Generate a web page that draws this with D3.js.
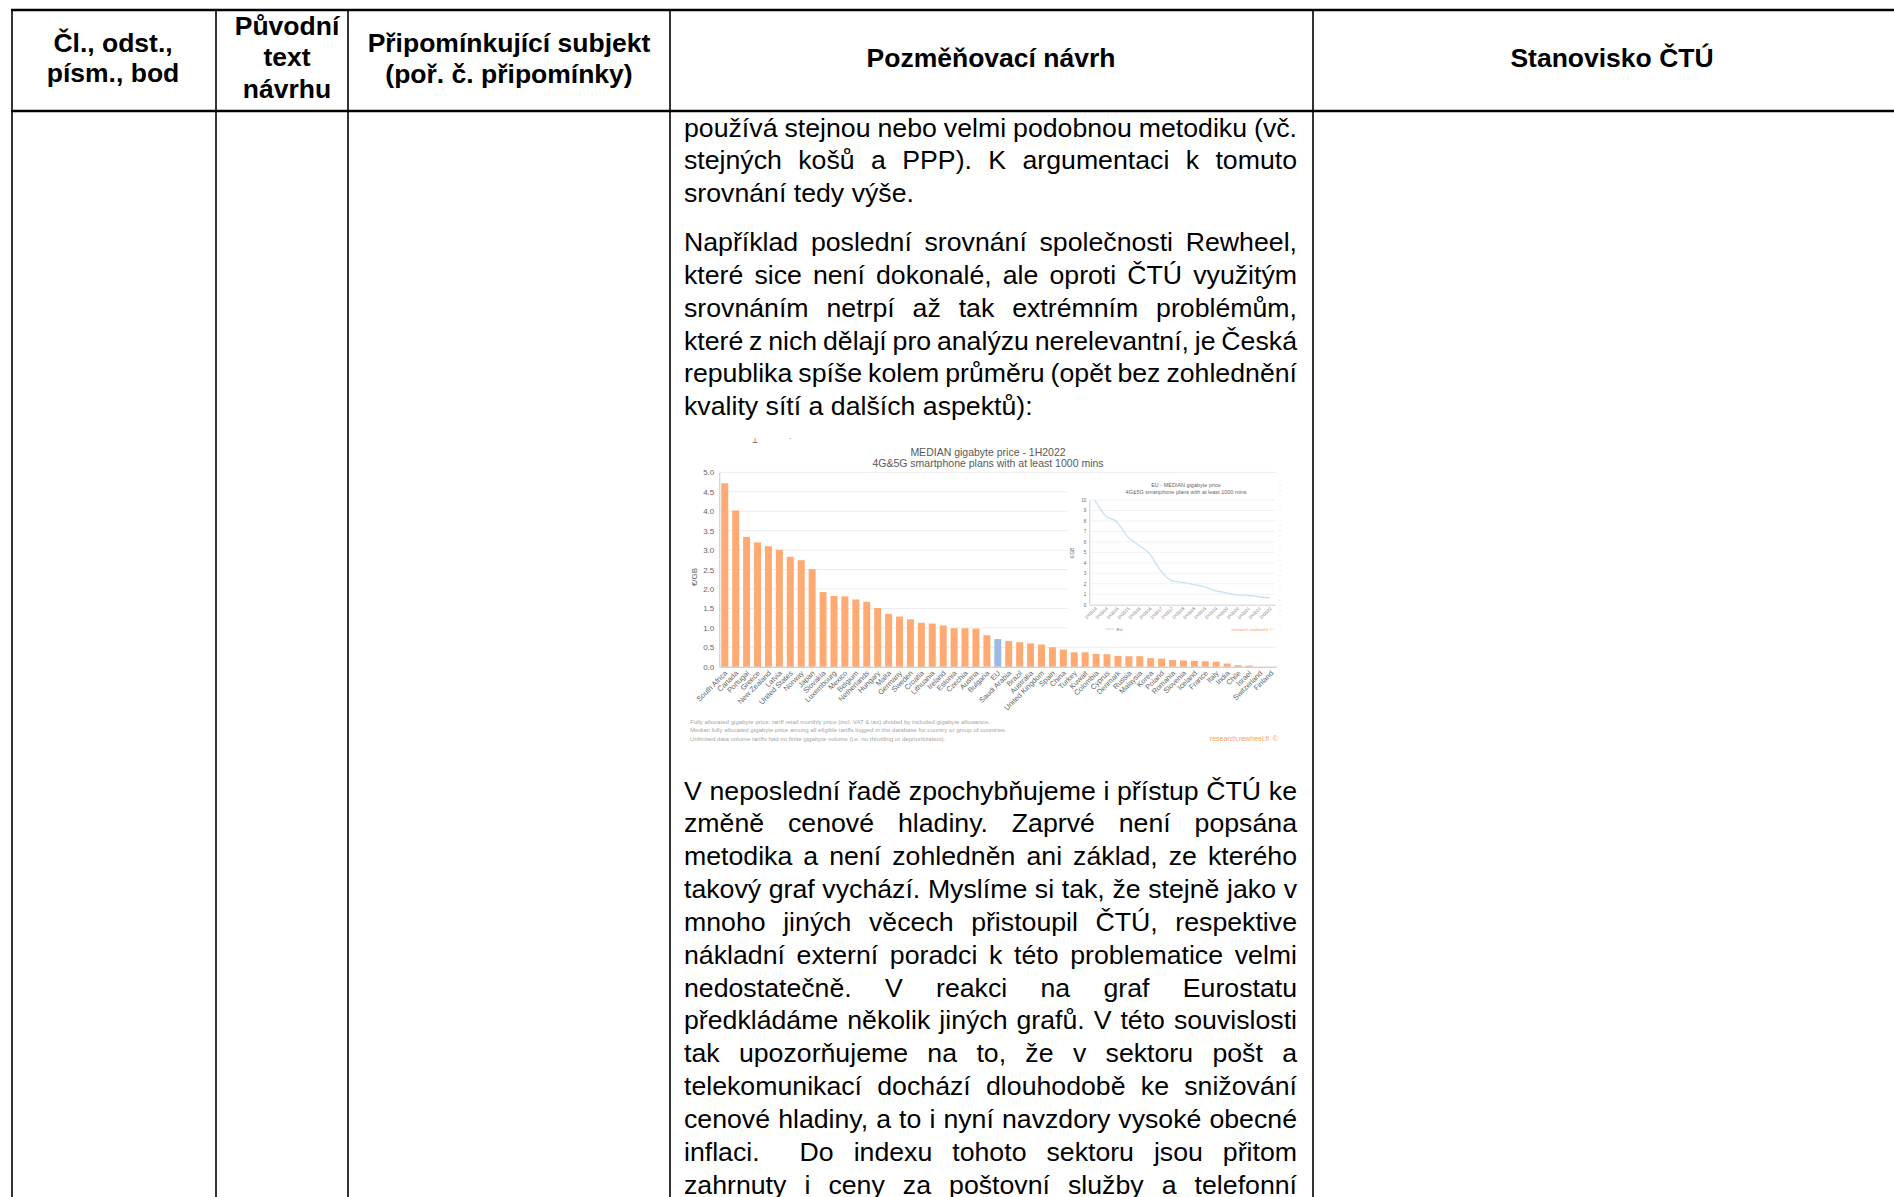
<!DOCTYPE html>
<html>
<head>
<meta charset="utf-8">
<script src="https://cdn.jsdelivr.net/npm/d3@7"></script>
<style>
  body { margin: 0; background: #fff; }
  svg text { font-family: "Liberation Sans", Arial, sans-serif; white-space: pre; }
</style>
</head>
<body>
<svg id="page"></svg>
<script>
// --- main chart data (MEDIAN gigabyte price - 1H2022) ---
const countries = ["South Africa","Canada","Portugal","Greece","New Zealand","Latvia","United States","Norway","Japan","Slovakia",
  "Luxembourg","Mexico","Belgium","Netherlands","Hungary","Malta","Germany","Sweden","Croatia","Lithuania",
  "Ireland","Estonia","Czechia","Austria","Bulgaria","EU","Saudi Arabia","Brazil","Australia","United Kingdom",
  "Spain","China","Turkey","Kuwait","Colombia","Cyprus","Denmark","Russia","Malaysia","Korea",
  "Poland","Romania","Slovenia","Iceland","France","Italy","India","Chile","Israel","Switzerland","Finland"];
const prices = [4.72,4.02,3.34,3.20,3.10,3.01,2.83,2.74,2.51,1.92,
  1.82,1.81,1.73,1.67,1.51,1.36,1.29,1.22,1.13,1.11,
  1.06,0.99,0.99,0.98,0.81,0.71,0.66,0.63,0.60,0.57,
  0.50,0.44,0.37,0.37,0.33,0.32,0.28,0.27,0.27,0.22,
  0.21,0.17,0.16,0.15,0.14,0.13,0.08,0.04,0.03,0,0];
const priceTicks = [0,0.5,1,1.5,2,2.5,3,3.5,4,4.5,5];

// --- inset data (EU - MEDIAN gigabyte price) ---
const periods = ["1H2014","2H2014","1H2015","2H2015","1H2016","2H2016","1H2017","2H2017","1H2018","2H2018",
  "1H2019","2H2019","1H2020","2H2020","1H2021","2H2021","1H2022"];
const euTrend = [10.0,8.47,7.93,6.5,5.7,4.9,3.3,2.3,2.13,1.94,1.72,1.34,1.15,0.92,0.89,0.76,0.64];
const euTicks = [0,1,2,3,4,5,6,7,8,9,10];

const footnotes = [
  "Fully allocated gigabyte price: tariff retail monthly price (incl. VAT & tax) divided by included gigabyte allowance.",
  "Median fully allocated gigabyte price among all eligible tariffs logged in the database for country or group of countries.",
  "Unlimited data volume tariffs had no finite gigabyte volume (i.e. no throttling or deprioritization)."
];

// --- document text ---
const para1 = [
  "používá stejnou nebo velmi podobnou metodiku (vč.",
  "stejných košů a PPP). K argumentaci k tomuto",
  "srovnání tedy výše."
];
const para2 = [
  "Například poslední srovnání společnosti Rewheel,",
  "které sice není dokonalé, ale oproti ČTÚ využitým",
  "srovnáním netrpí až tak extrémním problémům,",
  "které z nich dělají pro analýzu nerelevantní, je Česká",
  "republika spíše kolem průměru (opět bez zohlednění",
  "kvality sítí a dalších aspektů):"
];
const para3 = [
  "V neposlední řadě zpochybňujeme i přístup ČTÚ ke",
  "změně cenové hladiny. Zaprvé není popsána",
  "metodika a není zohledněn ani základ, ze kterého",
  "takový graf vychází. Myslíme si tak, že stejně jako v",
  "mnoho jiných věcech přistoupil ČTÚ, respektive",
  "nákladní externí poradci k této problematice velmi",
  "nedostatečně. V reakci na graf Eurostatu",
  "předkládáme několik jiných grafů. V této souvislosti",
  "tak upozorňujeme na to, že v sektoru pošt a",
  "telekomunikací dochází dlouhodobě ke snižování",
  "cenové hladiny, a to i nyní navzdory vysoké obecné",
  "inflaci.  Do indexu tohoto sektoru jsou přitom",
  "zahrnuty i ceny za poštovní služby a telefonní"
];

const W = 1894, H = 1197;
const svg = d3.select("#page").attr("width", W).attr("height", H);

// table header
const headers = [
  { x: 113, lines: [["Čl., odst.,", 51.5], ["písm., bod", 82]] },
  { x: 287, lines: [["Původní", 34.5], ["text", 66], ["návrhu", 97.5]] },
  { x: 509, lines: [["Připomínkující subjekt", 51.5], ["(poř. č. připomínky)", 83]] },
  { x: 991, lines: [["Pozměňovací návrh", 66.5]] },
  { x: 1612, lines: [["Stanovisko ČTÚ", 66.5]] }
];
headers.forEach(h => {
  h.lines.forEach(([t, y]) => {
    svg.append("text").attr("x", h.x).attr("y", y)
      .attr("text-anchor", "middle").attr("font-size", 26.5).attr("font-weight", "bold")
      .text(t);
  });
});

const grid = svg.append("g").attr("stroke", "#000");
grid.append("line").attr("x1", 11).attr("x2", W).attr("y1", 10).attr("y2", 10).attr("stroke-width", 2.5);
grid.append("line").attr("x1", 11).attr("x2", W).attr("y1", 111).attr("y2", 111).attr("stroke-width", 2.5);
[12, 216, 348, 670, 1313].forEach(x => {
  grid.append("line").attr("x1", x).attr("x2", x).attr("y1", 9).attr("y2", H).attr("stroke-width", 1.6);
});

// justified paragraphs
const textLeft = 684, textRight = 1297, lineH = 32.85;
function drawPara(lines, y0, lastJustified) {
  lines.forEach((ln, i) => {
    const t = svg.append("text").attr("x", textLeft).attr("y", y0 + i * lineH)
      .attr("font-size", 26.7).attr("fill", "#000").text(ln);
    if (i < lines.length - 1 || lastJustified) {
      const w = t.node().getComputedTextLength();
      const gaps = (ln.match(/ /g) || []).length;
      if (gaps) t.attr("word-spacing", (textRight - textLeft - w) / gaps);
    }
  });
}
drawPara(para1, 136.5, false);
drawPara(para2, 251, false);
drawPara(para3, 799.5, true);

// --- bar chart image ---
const chart = svg.append("g");
chart.append("text").attr("x", 752).attr("y", 443).attr("font-size", 7).attr("fill", "#222").text("⊥");
chart.append("text").attr("x", 789).attr("y", 443).attr("font-size", 7).attr("fill", "#222").text("ˊ");

const x = d3.scaleBand().domain(countries).range([719.3, 1276.3]).paddingInner(0.36).paddingOuter(0.18);
const y = d3.scaleLinear().domain([0, 5]).range([666.7, 472.4]);

chart.append("g").selectAll("line").data(priceTicks.slice(1)).join("line")
  .attr("x1", 719.3).attr("x2", 1276.3)
  .attr("y1", d => y(d)).attr("y2", d => y(d))
  .attr("stroke", "#ececec").attr("stroke-width", 1);

chart.append("g").selectAll("rect").data(countries).join("rect")
  .attr("x", d => x(d)).attr("width", x.bandwidth())
  .attr("y", (d, i) => y(prices[i])).attr("height", (d, i) => y(0) - y(prices[i]))
  .attr("fill", d => d === "EU" ? "#9dbbe0" : "#ffaa73");

const yAxis = chart.append("g").attr("transform", "translate(719.3,0)")
  .call(d3.axisLeft(y).tickValues(priceTicks).tickFormat(d3.format(".1f")).tickSize(0).tickPadding(5));
yAxis.select(".domain").attr("stroke", "#c8c8c8");
yAxis.selectAll("text").attr("font-size", 8).attr("fill", "#666").attr("font-family", "Liberation Sans, Arial, sans-serif");

const xAxis = chart.append("g").attr("transform", "translate(0,666.7)")
  .call(d3.axisBottom(x).tickSize(0).tickPadding(0));
xAxis.select(".domain").attr("stroke", "#bdbdbd");
xAxis.selectAll("text")
  .attr("font-size", 7.4).attr("fill", "#666").attr("font-family", "Liberation Sans, Arial, sans-serif")
  .attr("text-anchor", "end").attr("dy", 0)
  .attr("transform", "translate(3,7) rotate(-45)");

chart.append("text").attr("transform", "translate(697,577) rotate(-90)")
  .attr("text-anchor", "middle").attr("font-size", 8).attr("fill", "#595959").text("€/GB");

chart.append("text").attr("x", 988).attr("y", 456).attr("text-anchor", "middle")
  .attr("font-size", 10.5).attr("fill", "#595959").text("MEDIAN gigabyte price - 1H2022");
chart.append("text").attr("x", 988).attr("y", 467).attr("text-anchor", "middle")
  .attr("font-size", 10.5).attr("fill", "#595959").text("4G&5G smartphone plans with at least 1000 mins");

chart.append("g").selectAll("text").data(footnotes).join("text")
  .attr("x", 690).attr("y", (d, i) => 724 + i * 8.3)
  .attr("font-size", 6.1).attr("fill", "#a6a6a6").text(d => d);
chart.append("text").attr("x", 1278).attr("y", 741).attr("text-anchor", "end")
  .attr("font-size", 7).attr("fill", "#f5a05a").text("research.rewheel.fi  ©");

// --- inset line chart ---
const inset = chart.append("g");
inset.append("rect").attr("x", 1068).attr("y", 476).attr("width", 216).attr("height", 164).attr("fill", "#fff");
inset.append("line").attr("x1", 1280).attr("x2", 1280).attr("y1", 480).attr("y2", 632)
  .attr("stroke", "#e6e6e6").attr("stroke-dasharray", "1,4");

const ix = d3.scalePoint().domain(periods).range([1089.3, 1275]).padding(0.5);
const iy = d3.scaleLinear().domain([0, 10]).range([604.7, 500]);

inset.append("g").selectAll("line").data(euTicks.slice(1)).join("line")
  .attr("x1", 1089.3).attr("x2", 1275).attr("y1", d => iy(d)).attr("y2", d => iy(d))
  .attr("stroke", "#efefef").attr("stroke-width", 0.8);

const iyAxis = inset.append("g").attr("transform", "translate(1089.3,0)")
  .call(d3.axisLeft(iy).tickValues(euTicks).tickSize(0).tickPadding(3));
iyAxis.select(".domain").attr("stroke", "#d0d0d0");
iyAxis.selectAll("text").attr("font-size", 4.6).attr("fill", "#666").attr("font-family", "Liberation Sans, Arial, sans-serif");

const ixAxis = inset.append("g").attr("transform", "translate(0,604.7)")
  .call(d3.axisBottom(ix).tickSize(0).tickPadding(0));
ixAxis.select(".domain").attr("stroke", "#d0d0d0");
ixAxis.selectAll("text")
  .attr("font-size", 4.4).attr("fill", "#777").attr("font-family", "Liberation Sans, Arial, sans-serif")
  .attr("text-anchor", "end").attr("dy", 0)
  .attr("transform", "translate(2,4) rotate(-45)");

inset.append("path").datum(euTrend)
  .attr("fill", "none").attr("stroke", "#c5e2f2").attr("stroke-width", 1.3)
  .attr("d", d3.line().x((d, i) => ix(periods[i])).y(d => iy(d)).curve(d3.curveMonotoneX));

inset.append("text").attr("transform", "translate(1074,553) rotate(-90)")
  .attr("text-anchor", "middle").attr("font-size", 4.6).attr("fill", "#666").text("€/GB");
inset.append("text").attr("x", 1186).attr("y", 487).attr("text-anchor", "middle")
  .attr("font-size", 5.5).attr("fill", "#666").text("EU - MEDIAN gigabyte price");
inset.append("text").attr("x", 1186).attr("y", 494).attr("text-anchor", "middle")
  .attr("font-size", 5.5).attr("fill", "#666").text("4G&5G smartphone plans with at least 1000 mins");
inset.append("line").attr("x1", 1105).attr("x2", 1114).attr("y1", 629).attr("y2", 629)
  .attr("stroke", "#c5e2f2").attr("stroke-width", 1.2);
inset.append("text").attr("x", 1116.5).attr("y", 630.5).attr("font-size", 4.4).attr("fill", "#777").text("EU");
inset.append("text").attr("x", 1273).attr("y", 630.5).attr("text-anchor", "end")
  .attr("font-size", 4.4).attr("fill", "#f5a05a").text("research.rewheel.fi ©");
</script>
</body>
</html>
